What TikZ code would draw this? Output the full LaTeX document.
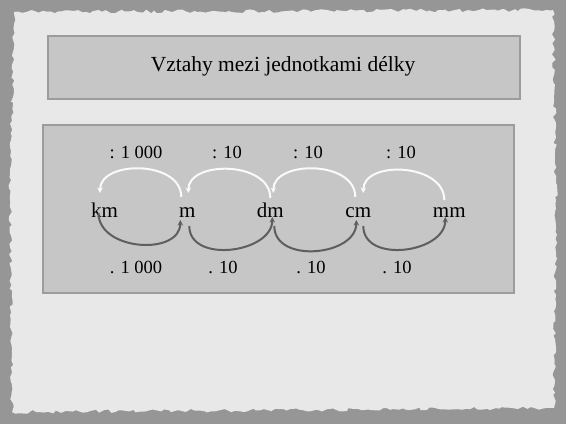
\documentclass[tikz,border=0pt]{standalone}
\usepackage{fontspec}
\setmainfont{Liberation Serif}
\usetikzlibrary{arrows.meta,calc,decorations.pathmorphing}
\definecolor{bgout}{HTML}{969696}
\definecolor{paper}{HTML}{E8E8E8}
\definecolor{boxfill}{HTML}{C6C6C6}
\definecolor{boxline}{HTML}{9C9C9C}
\definecolor{darkarc}{HTML}{5E5E5E}
\definecolor{lightarc}{HTML}{FAFAFA}
\tikzset{
  panel/.style={fill=boxfill,draw=boxline,line width=1.5pt},
  unit/.style={font=\fontsize{21}{21}\selectfont,inner sep=0pt,anchor=base},
  lbl/.style={font=\fontsize{18.5}{19}\selectfont,inner sep=0pt},
  toparc/.style={draw=lightarc,line width=2pt,-{Stealth[length=5.5pt,width=5.5pt]},
    to path={.. controls +(0,-37) and +(0,-33) .. (\tikztotarget)}},
  botarc/.style={draw=darkarc,line width=2pt,-{Stealth[length=5.5pt,width=5.5pt]},
    to path={.. controls +(0,38) and +(0,36) .. (\tikztotarget)}},
}
\begin{document}
\begin{tikzpicture}[x=1pt,y=-1pt]
\pgfmathsetseed{7}
\useasboundingbox (0,0) rectangle (566,424);
\fill[bgout] (0,0) rectangle (566,424);
\fill[paper,decorate,decoration={random steps,segment length=4pt,amplitude=1.8pt}]
  (14,12) -- (553,10) -- (556,200) -- (554,408) -- (300,410) -- (12,412) -- (10,200) -- cycle;
% title
\node[panel,minimum width=472pt,minimum height=63pt,anchor=north west] (titlebox) at (47,35) {};
\node[font=\fontsize{21.5}{21.5}\selectfont] (title) at (283,66) {Vztahy mezi jednotkami délky};
% main panel
\node[panel,minimum width=471pt,minimum height=168pt,anchor=north west] (mainbox) at (42,124) {};
% units
\node[unit] (km) at (104.5,217) {km};
\node[unit] (m) at (187.3,217) {m};
\node[unit] (dm) at (270.3,217) {dm};
\node[unit] (cm) at (358.3,217) {cm};
\node[unit] (mm) at (449.3,217) {mm};
% labels
\node[lbl] (d1) at (136,152) {: 1 000};
\node[lbl] (d2) at (227,152) {: 10};
\node[lbl] (d3) at (308,152) {: 10};
\node[lbl] (d4) at (401,152) {: 10};
\node[lbl] (t1) at (136,267) {. 1 000};
\node[lbl] (t2) at (223,267) {. 10};
\node[lbl] (t3) at (311,267) {. 10};
\node[lbl] (t4) at (397,267) {. 10};
% top arcs (division)
\draw[toparc] ($(m.base)+(-6,-20)$) to ($(km.base)+(-4.5,-24)$);
\draw[toparc] ($(dm.base)+(0,-19)$) to ($(m.base)+(1,-24)$);
\draw[toparc] ($(cm.base)+(-3,-20)$) to ($(dm.base)+(3,-24)$);
\draw[toparc] ($(mm.base)+(-5,-17)$) to ($(cm.base)+(5,-24)$);
% bottom arcs (multiplication)
\draw[botarc] ($(km.base)+(-6,-4)$) to ($(m.base)+(-7,3)$);
\draw[botarc] ($(m.base)+(2,9)$) to ($(dm.base)+(2,0)$);
\draw[botarc] ($(dm.base)+(4,9)$) to ($(cm.base)+(-2,3)$);
\draw[botarc] ($(cm.base)+(5,9)$) to ($(mm.base)+(-4,0)$);
\end{tikzpicture}
\end{document}
